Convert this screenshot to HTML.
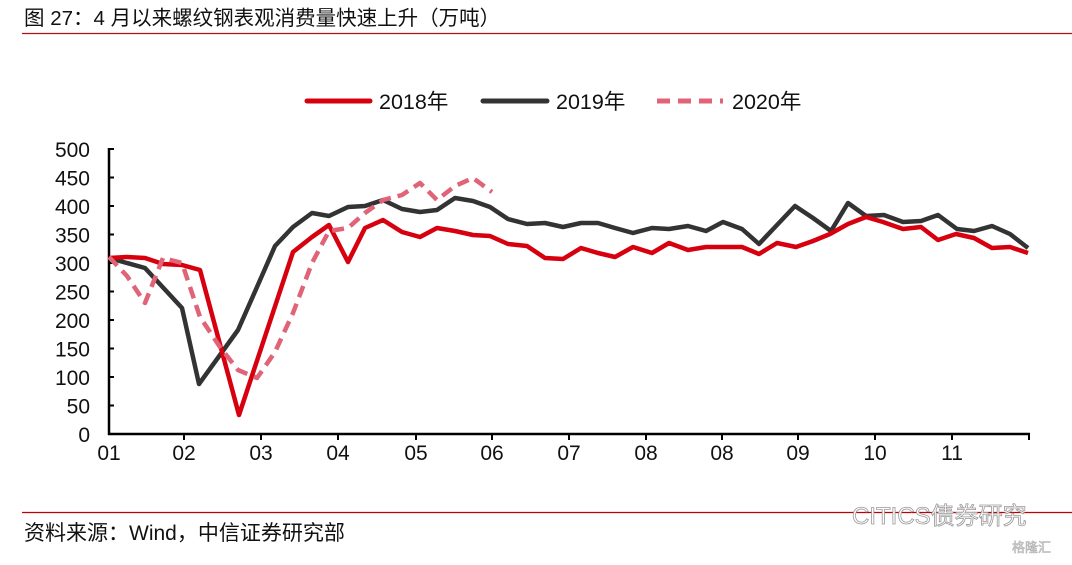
<!DOCTYPE html>
<html><head><meta charset="utf-8"><style>
body{margin:0;background:#fff;width:1072px;height:560px;overflow:hidden;font-family:"Liberation Sans","Noto Sans CJK SC",sans-serif}
</style></head><body>
<svg width="1072" height="560" xmlns="http://www.w3.org/2000/svg" font-family="Liberation Sans, Noto Sans CJK SC, sans-serif">
<text x="24" y="25" font-size="20.5" fill="#111">图 27：4 月以来螺纹钢表观消费量快速上升（万吨）</text>
<line x1="22" y1="33.5" x2="1072" y2="33.5" stroke="#b01010" stroke-width="1.2"/>
<line x1="22" y1="512.5" x2="1072" y2="512.5" stroke="#c00000" stroke-width="1.2"/>
<text x="24" y="540" font-size="21" fill="#111">资料来源：Wind，中信证券研究部</text>
<text x="852" y="524" font-size="24" fill="#fff" stroke="#999" stroke-width="0.8">CITICS债券研究</text>
<text x="1012" y="552" font-size="13" fill="#ddd" stroke="#aaa" stroke-width="0.5">格隆汇</text>
<!-- legend -->
<line x1="307" y1="101" x2="370" y2="101" stroke="#d7000f" stroke-width="5" stroke-linecap="round"/>
<text x="379" y="109" font-size="21.5" fill="#111">2018年</text>
<line x1="483" y1="101" x2="547" y2="101" stroke="#333" stroke-width="5" stroke-linecap="round"/>
<text x="556" y="109" font-size="21.5" fill="#111">2019年</text>
<line x1="657" y1="101" x2="723" y2="101" stroke="#e06377" stroke-width="5" stroke-dasharray="13,8"/>
<text x="732" y="109" font-size="21.5" fill="#111">2020年</text>
<!-- axes -->
<g stroke="#000" stroke-width="2.5">
<line x1="109" y1="148" x2="109" y2="435"/>
<line x1="108" y1="434" x2="1030" y2="434"/>
</g>
<g stroke="#000" stroke-width="2">
<line x1="109" y1="149" x2="114" y2="149"/><line x1="109" y1="177.5" x2="114" y2="177.5"/><line x1="109" y1="206" x2="114" y2="206"/><line x1="109" y1="234.5" x2="114" y2="234.5"/><line x1="109" y1="263" x2="114" y2="263"/><line x1="109" y1="291.5" x2="114" y2="291.5"/><line x1="109" y1="320" x2="114" y2="320"/><line x1="109" y1="348.5" x2="114" y2="348.5"/><line x1="109" y1="377" x2="114" y2="377"/><line x1="109" y1="405.5" x2="114" y2="405.5"/>
<line x1="184" y1="434" x2="184" y2="440"/><line x1="261" y1="434" x2="261" y2="440"/><line x1="338" y1="434" x2="338" y2="440"/><line x1="416" y1="434" x2="416" y2="440"/><line x1="492" y1="434" x2="492" y2="440"/><line x1="569" y1="434" x2="569" y2="440"/><line x1="646" y1="434" x2="646" y2="440"/><line x1="722" y1="434" x2="722" y2="440"/><line x1="798" y1="434" x2="798" y2="440"/><line x1="875" y1="434" x2="875" y2="440"/><line x1="952" y1="434" x2="952" y2="440"/><line x1="1029" y1="434" x2="1029" y2="440"/>
</g>
<g font-size="21" fill="#111" text-anchor="end">
<text x="90" y="157">500</text><text x="90" y="185.5">450</text><text x="90" y="214">400</text><text x="90" y="242.5">350</text><text x="90" y="271">300</text><text x="90" y="299.5">250</text><text x="90" y="328">200</text><text x="90" y="356.5">150</text><text x="90" y="385">100</text><text x="90" y="413.5">50</text><text x="90" y="442">0</text>
</g>
<g font-size="21" fill="#111" text-anchor="middle">
<text x="109" y="460">01</text><text x="184" y="460">02</text><text x="261" y="460">03</text><text x="338" y="460">04</text><text x="416" y="460">05</text><text x="492" y="460">06</text><text x="569" y="460">07</text><text x="646" y="460">08</text><text x="722" y="460">08</text><text x="798" y="460">09</text><text x="875" y="460">10</text><text x="952" y="460">11</text>
</g>
<g fill="none" stroke-width="4.5" stroke-linejoin="round">
<polyline stroke="#333" points="109,258 145,268 182,308 199,384 238,330 257,287 275,246 293,227 312,213 329,216 348,207 365,206 383,200 402,209 420,212 437,210 455,198 473,201 490,207 508,219 527,224 545,223 563,227 581,223 598,223 615,228 633,233 652,228 669,229 688,226 706,231 723,222 742,229 759,244 777,225 795,206 813,218 831,231 848,203 866,216 884,215 903,222 921,221 938,215 957,229 974,231 992,226 1010,234 1028,248"/>
<polyline stroke="#d7000f" points="109,258 127,257 145,258 163,264 182,265 200,270 239,415 293,252 312,237 329,225 348,262 365,228 383,220 402,232 420,237 437,228 455,231 473,235 490,236 508,244 527,246 545,258 563,259 581,248 598,253 615,257 633,247 652,253 669,243 688,250 706,247 742,247 759,254 777,243 796,247 813,241 830,234 848,224 866,217 883,222 903,229 921,227 938,240 956,234 974,238 992,248 1010,247 1028,253"/>
<polyline stroke="#e06377" stroke-dasharray="12,7" points="109,257 127,276 145,303 163,258 182,263 200,317 220,347 238,370 257,378 275,352 293,313 312,263 329,231 348,228 365,213 383,200 402,195 420,183 437,200 455,186 473,178 492,192"/>
</g>
</svg>
</body></html>
